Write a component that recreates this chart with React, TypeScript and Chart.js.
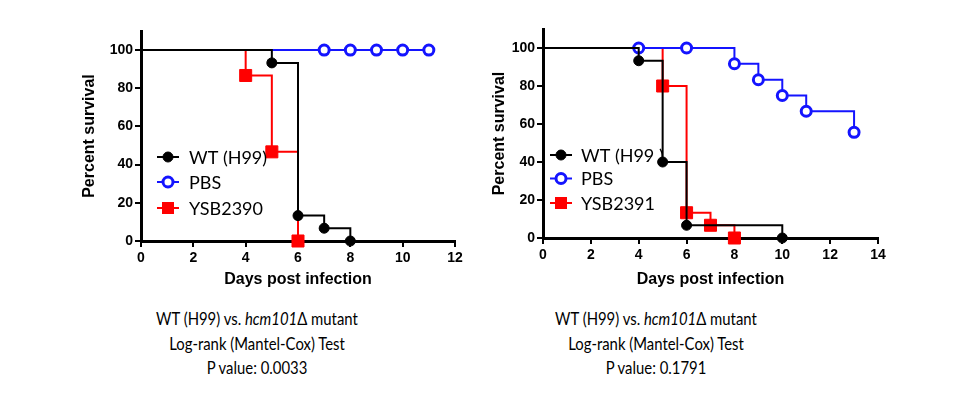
import { useEffect, useRef } from "react"
import { Chart, registerables, type ChartConfiguration, type Plugin } from "chart.js"

Chart.register(...registerables)

// Left panel (P = 0.0033)
const leftWtDays = [0, 5, 6, 7, 8]
const leftWtSurvival = [100, 93.3, 13.3, 6.7, 0]
const leftPbsDays = [0, 7, 8, 9, 10, 11]
const leftPbsSurvival = [100, 100, 100, 100, 100, 100]
const leftMutDays = [0, 4, 5, 6]
const leftMutSurvival = [100, 86.7, 46.7, 0]
const leftLabels = ["WT (H99)", "PBS", "YSB2390"]
const leftCaption = ["WT (H99) vs. ", "Log-rank (Mantel-Cox) Test", "P value: 0.0033"]

// Right panel (P = 0.1791)
const rightWtDays = [0, 4, 5, 6, 10]
const rightWtSurvival = [100, 93.3, 40, 6.7, 0]
const rightPbsDays = [0, 4, 6, 8, 9, 10, 11, 13]
const rightPbsSurvival = [100, 100, 100, 91.7, 83.3, 75, 66.7, 55.6]
const rightMutDays = [0, 5, 6, 7, 8]
const rightMutSurvival = [100, 80, 13.3, 6.7, 0]
const rightLabels = ["WT (H99 )", "PBS", "YSB2391"]
const rightCaption = ["WT (H99) vs. ", "Log-rank (Mantel-Cox) Test", "P value: 0.1791"]

const yTicks = [0, 20, 40, 60, 80, 100]

const BLUE = "#1414ff"
const RED = "#ff0000"
const AXIS_FONT = "'Liberation Sans', Arial, sans-serif"
const TEXT_FONT = "Lato, 'Open Sans', sans-serif"

const toPoints = (xs: number[], ys: number[]) => xs.map((x, i) => ({ x, y: ys[i] }))

interface LegendOpts {
  x: number
  textX: number
  rows: number[]
  labels: string[]
}

// legend drawn inside the plot, like the GraphPad original
const inlineLegend: Plugin = {
  id: "inlineLegend",
  afterDatasetsDraw(chart, _args, opts: any) {
    const o = opts as LegendOpts
    const ctx = chart.ctx
    ctx.save()
    chart.data.datasets.forEach((ds: any, i) => {
      const y = o.rows[i]
      ctx.strokeStyle = ds.borderColor
      ctx.lineWidth = 2
      ctx.beginPath()
      ctx.moveTo(o.x - 11, y)
      ctx.lineTo(o.x + 11, y)
      ctx.stroke()
      if (ds.pointStyle === "rect") {
        ctx.fillStyle = ds.pointBackgroundColor
        ctx.fillRect(o.x - 6, y - 6, 12, 12)
      } else {
        ctx.beginPath()
        ctx.arc(o.x, y, 5, 0, Math.PI * 2)
        ctx.fillStyle = ds.pointBackgroundColor
        ctx.fill()
        ctx.lineWidth = ds.pointBorderWidth
        ctx.strokeStyle = ds.borderColor
        ctx.stroke()
      }
      ctx.fillStyle = "#000"
      ctx.font = `18px ${TEXT_FONT}`
      ctx.textBaseline = "middle"
      ctx.textAlign = "left"
      ctx.fillText(o.labels[i], o.textX, y + 1)
    })
    ctx.restore()
  },
}

interface PanelProps {
  wt: { x: number; y: number }[]
  pbs: { x: number; y: number }[]
  mut: { x: number; y: number }[]
  xMax: number
  yAxisWidth: number
  xAxisHeight: number
  padTop: number
  padRight: number
  yTitlePad: number
  legend: LegendOpts
}

const noFirst = (r: number) => (c: any) => (c.dataIndex === 0 ? 0 : r)

const SurvivalPanel = (p: PanelProps) => {
  const canvasRef = useRef<HTMLCanvasElement>(null)

  useEffect(() => {
    if (!canvasRef.current) return

    const config: ChartConfiguration<"line"> = {
      type: "line",
      data: {
        datasets: [
          {
            data: p.wt,
            borderColor: "#000",
            borderWidth: 2,
            stepped: "before",
            pointStyle: "circle",
            pointRadius: noFirst(5),
            pointBackgroundColor: "#000",
            pointBorderColor: "#000",
            pointBorderWidth: 1,
            clip: false,
          },
          {
            data: p.pbs,
            borderColor: BLUE,
            borderWidth: 2,
            stepped: "before",
            pointStyle: "circle",
            pointRadius: noFirst(5),
            pointBackgroundColor: "#fff",
            pointBorderColor: BLUE,
            pointBorderWidth: 3,
            clip: false,
          },
          {
            data: p.mut,
            borderColor: RED,
            borderWidth: 2,
            stepped: "before",
            pointStyle: "rect",
            pointRadius: noFirst(8.5),
            pointBackgroundColor: RED,
            pointBorderColor: RED,
            pointBorderWidth: 1,
            clip: false,
          },
        ],
      },
      options: {
        animation: false,
        responsive: true,
        maintainAspectRatio: false,
        layout: { padding: { top: p.padTop, right: p.padRight, left: 0, bottom: 0 } },
        scales: {
          x: {
            type: "linear",
            min: 0,
            max: p.xMax,
            afterFit: (s: any) => {
              s.height = p.xAxisHeight
            },
            ticks: {
              stepSize: 2,
              color: "#000",
              padding: 3,
              font: { family: AXIS_FONT, size: 14, weight: "bold" },
            },
            grid: { drawOnChartArea: false, color: "#000", lineWidth: 2, tickLength: 6 },
            border: { color: "#000", width: 3 },
            title: {
              display: true,
              text: "Days post infection",
              color: "#000",
              font: { family: AXIS_FONT, size: 16, weight: "bold" },
              padding: { top: 0, bottom: 10.5 },
            },
          },
          y: {
            type: "linear",
            min: 0,
            max: 110,
            afterFit: (s: any) => {
              s.width = p.yAxisWidth
            },
            afterBuildTicks: (s: any) => {
              s.ticks = yTicks.map((v) => ({ value: v }))
            },
            ticks: {
              color: "#000",
              padding: 2,
              font: { family: AXIS_FONT, size: 14, weight: "bold" },
            },
            grid: { drawOnChartArea: false, color: "#000", lineWidth: 2, tickLength: 6 },
            border: { color: "#000", width: 3 },
            title: {
              display: true,
              text: "Percent survival",
              color: "#000",
              font: { family: AXIS_FONT, size: 16, weight: "bold" },
              padding: { top: p.yTitlePad, bottom: 0 },
            },
          },
        },
        plugins: {
          legend: { display: false },
          tooltip: { enabled: false },
          inlineLegend: p.legend,
        } as any,
      },
      plugins: [inlineLegend],
    }

    const chart = new Chart(canvasRef.current, config)
    return () => chart.destroy()
  }, [p])

  return <canvas ref={canvasRef}></canvas>
}

const Caption = ({ lines, center }: { lines: string[]; center: number }) => (
  <div
    style={{
      position: "absolute",
      left: center - 160,
      top: 307,
      width: 320,
      textAlign: "center",
      fontFamily: TEXT_FONT,
      fontSize: 17.5,
      lineHeight: "24.5px",
      color: "#000",
      transform: "scaleX(0.85)",
      transformOrigin: "center top",
    }}
  >
    <div>
      {lines[0]}
      <i>hcm101</i>Δ mutant
    </div>
    <div>{lines[1]}</div>
    <div>{lines[2]}</div>
  </div>
)

const leftProps: PanelProps = {
  wt: toPoints(leftWtDays, leftWtSurvival),
  pbs: toPoints(leftPbsDays, leftPbsSurvival),
  mut: toPoints(leftMutDays, leftMutSurvival),
  xMax: 12,
  yAxisWidth: 141,
  xAxisHeight: 59,
  padTop: 31,
  padRight: 25,
  yTitlePad: 80,
  legend: { x: 168, textX: 189, rows: [157, 182, 208], labels: leftLabels },
}

const rightProps: PanelProps = {
  wt: toPoints(rightWtDays, rightWtSurvival),
  pbs: toPoints(rightPbsDays, rightPbsSurvival),
  mut: toPoints(rightMutDays, rightMutSurvival),
  xMax: 14,
  yAxisWidth: 63,
  xAxisHeight: 62,
  padTop: 29,
  padRight: 82,
  yTitlePad: 10,
  legend: { x: 81, textX: 101, rows: [155, 178.5, 203], labels: rightLabels },
}

export default function App() {
  return (
    <div style={{ position: "absolute", left: 0, top: 0, width: 960, height: 415, background: "#fff" }}>
      <div style={{ position: "absolute", left: 0, top: 0, width: 480, height: 300 }}>
        <SurvivalPanel {...leftProps} />
      </div>
      <div style={{ position: "absolute", left: 480, top: 0, width: 480, height: 300 }}>
        <SurvivalPanel {...rightProps} />
      </div>
      <Caption lines={leftCaption} center={257} />
      <Caption lines={rightCaption} center={656} />
    </div>
  )
}
